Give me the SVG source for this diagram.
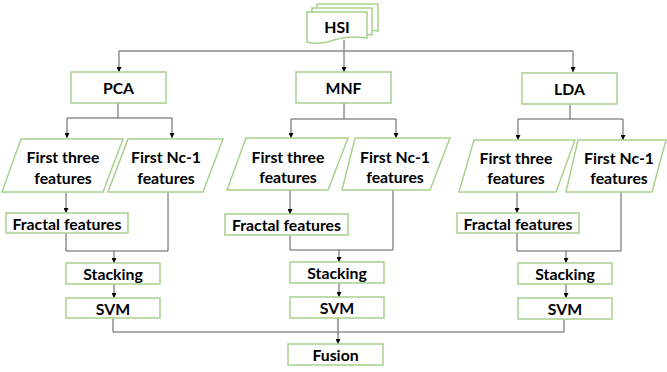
<svg xmlns="http://www.w3.org/2000/svg" width="667" height="372" viewBox="0 0 667 372">
<style>
.box{fill:#fff;stroke:#a9d18e;stroke-width:1.5}
.t{font-family:Lato,"Liberation Sans",sans-serif;font-weight:bold;font-size:15.8px;fill:#000;text-anchor:middle;dominant-baseline:central}
.ln{fill:none;stroke:#595959;stroke-width:1}
.lg{fill:none;stroke:#a6a6a6;stroke-width:2}
</style>
<defs>
<marker id="ah" viewBox="0 0 6 6" refX="6" refY="3" markerWidth="5" markerHeight="5" orient="auto" markerUnits="userSpaceOnUse">
<path d="M0,0 L6,3 L0,6 Z" fill="#000"/>
</marker>
</defs>
<rect width="667" height="372" fill="#fff"/>
<g id="connectors">
<path class="ln" d="M344,40 V51"/>
<path class="lg" d="M119,51 H573"/>
<path class="ln" d="M119,51 V72" marker-end="url(#ah)"/>
<path class="ln" d="M344,51 V72" marker-end="url(#ah)"/>
<path class="ln" d="M573,51 V72" marker-end="url(#ah)"/>
<!-- PCA -->
<path class="ln" d="M118,103 V118 M67,118 H172"/>
<path class="ln" d="M67,118 V138" marker-end="url(#ah)"/>
<path class="ln" d="M172,118 V138" marker-end="url(#ah)"/>
<path class="ln" d="M66,192 V213" marker-end="url(#ah)"/>
<path class="ln" d="M66,233 V251 H168 V192"/>
<path class="ln" d="M114,251 V263" marker-end="url(#ah)"/>
<path class="ln" d="M114,284 V298" marker-end="url(#ah)"/>
<!-- MNF -->
<path class="ln" d="M344,103 V119 M291,119 H396"/>
<path class="ln" d="M291,119 V138" marker-end="url(#ah)"/>
<path class="ln" d="M396,119 V138" marker-end="url(#ah)"/>
<path class="ln" d="M290,190 V214" marker-end="url(#ah)"/>
<path class="ln" d="M290,235 V250 H393 V190"/>
<path class="ln" d="M339,250 V262" marker-end="url(#ah)"/>
<path class="ln" d="M339,283 V297" marker-end="url(#ah)"/>
<!-- LDA -->
<path class="ln" d="M570,104 V119 M518,119 H623"/>
<path class="ln" d="M518,119 V140" marker-end="url(#ah)"/>
<path class="ln" d="M623,119 V140" marker-end="url(#ah)"/>
<path class="ln" d="M517,192 V213" marker-end="url(#ah)"/>
<path class="ln" d="M517,233 V251 H621 V192"/>
<path class="ln" d="M566,251 V263" marker-end="url(#ah)"/>
<path class="ln" d="M566,284 V298" marker-end="url(#ah)"/>
<!-- fusion -->
<path class="ln" d="M113,318 V332 H564 V319"/>
<path class="lg" d="M338,318 V332"/>
<path class="ln" d="M338,332 V344" marker-end="url(#ah)"/>
</g>
<g id="hsi">
<path class="box" d="M317,4 H378 V31 C366,29 356,30 348,33 L317,33 Z"/>
<path class="box" d="M312,8 H372 V35 C360,33 350,34 342,37 L312,37 Z"/>
<path class="box" d="M307,12 H367 V38 C353,36 343,37 334,40 C322,44 314,44 307,42 Z"/>
<text class="t" x="337" y="26">HSI</text>
</g>
<g id="pca"><rect class="box" x="71" y="72" width="95" height="31"/><text class="t" x="118.5" y="87.5">PCA</text></g>
<g id="mnf"><rect class="box" x="296" y="72" width="95" height="31"/><text class="t" x="343.5" y="87.5">MNF</text></g>
<g id="lda"><rect class="box" x="522" y="73" width="95" height="31"/><text class="t" x="569.5" y="88.5">LDA</text></g>
<g id="pca-three"><path class="box" d="M21,139 H123 L103,192 H2 Z"/><text class="t" x="63" y="156">First three</text><text class="t" x="63" y="177">features</text></g>
<g id="pca-nc"><path class="box" d="M128,139 H223 L203,192 H108 Z"/><text class="t" x="166" y="156">First Nc-1</text><text class="t" x="166" y="177">features</text></g>
<g id="mnf-three"><path class="box" d="M246,138 H348 L328,190 H227 Z"/><text class="t" x="288" y="156">First three</text><text class="t" x="288" y="176">features</text></g>
<g id="mnf-nc"><path class="box" d="M355,138 H450 L430,190 H342 Z"/><text class="t" x="395" y="156">First Nc-1</text><text class="t" x="395" y="176">features</text></g>
<g id="lda-three"><path class="box" d="M474,140 H575 L556,192 H459 Z"/><text class="t" x="516" y="157">First three</text><text class="t" x="516" y="177">features</text></g>
<g id="lda-nc"><path class="box" d="M578,140 H666 L652,192 H566 Z"/><text class="t" x="619" y="157">First Nc-1</text><text class="t" x="619" y="177">features</text></g>
<g id="pca-fractal"><rect class="box" x="6" y="213" width="122" height="20"/><text class="t" x="67" y="223">Fractal features</text></g>
<g id="mnf-fractal"><rect class="box" x="225" y="214" width="123" height="21"/><text class="t" x="286.5" y="224.5">Fractal features</text></g>
<g id="lda-fractal"><rect class="box" x="457" y="213" width="122" height="20"/><text class="t" x="518" y="223">Fractal features</text></g>
<g id="pca-stack"><rect class="box" x="66" y="263" width="94" height="21"/><text class="t" x="113" y="273.5">Stacking</text></g>
<g id="mnf-stack"><rect class="box" x="290" y="262" width="94" height="21"/><text class="t" x="337" y="272.5">Stacking</text></g>
<g id="lda-stack"><rect class="box" x="518" y="263" width="94" height="21"/><text class="t" x="565" y="273.5">Stacking</text></g>
<g id="pca-svm"><rect class="box" x="66" y="298" width="94" height="20"/><text class="t" x="113" y="308">SVM</text></g>
<g id="mnf-svm"><rect class="box" x="290" y="297" width="94" height="21"/><text class="t" x="337" y="307.5">SVM</text></g>
<g id="lda-svm"><rect class="box" x="518" y="298" width="94" height="21"/><text class="t" x="565" y="308.5">SVM</text></g>
<g id="fusion"><rect class="box" x="288" y="344" width="95" height="21"/><text class="t" x="335.5" y="354.5">Fusion</text></g>
</svg>
